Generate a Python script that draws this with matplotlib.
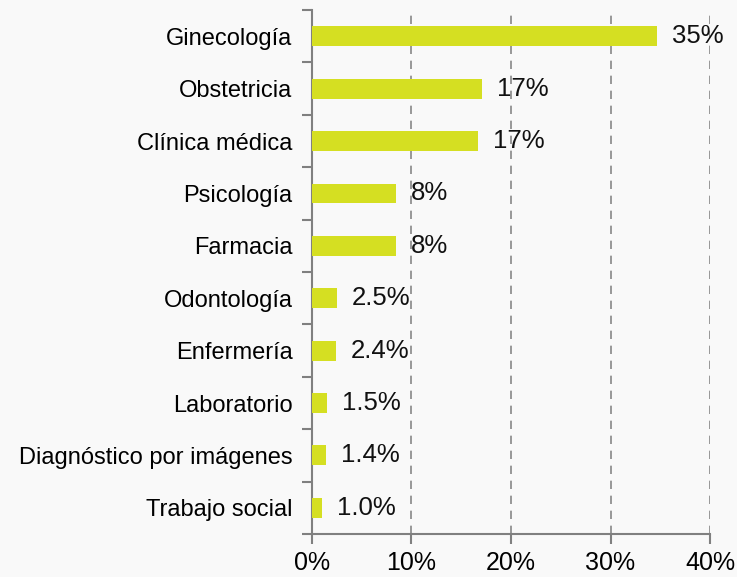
import numpy as np
import matplotlib.pyplot as plt

plt.rcParams['font.family'] = ['Liberation Sans', 'DejaVu Sans']

# Datos
categorias = ["Ginecología", "Obstetricia", "Clínica médica", "Psicología", "Farmacia",
              "Odontología", "Enfermería", "Laboratorio", "Diagnóstico por imágenes",
              "Trabajo social"]
valores = [34.7, 17.1, 16.7, 8.4, 8.4, 2.5, 2.4, 1.5, 1.4, 1.0]
etiquetas = ["35%", "17%", "17%", "8%", "8%", "2.5%", "2.4%", "1.5%", "1.4%", "1.0%"]
xticks = [0, 10, 20, 30, 40]

fig = plt.figure(figsize=(7.37, 5.77), dpi=100)
fig.patch.set_facecolor('#f9f9f9')

ax = fig.add_axes([0.4233, 0.0745, 0.5401, 0.908])
ax.patch.set_alpha(0)

y = np.arange(len(categorias))
ax.barh(y, valores, height=0.38, color='#d5df22', zorder=3)

for yi, v, t in zip(y, valores, etiquetas):
    ax.text(v + 1.5, yi, t, va='center', ha='left', fontsize=18.5, color='#111111', zorder=4)

ax.set_ylim(len(categorias) - 0.5, -0.5)
ax.set_xlim(0, 40)
ax.set_yticks(y)
ax.set_yticklabels(categorias, fontsize=17)
ax.set_xticks(xticks)
ax.set_xticklabels([f"{t}%" for t in xticks], fontsize=18)

# ticks de categoría en los bordes
ax.set_yticks(np.arange(len(categorias) + 1) - 0.5, minor=True)
ax.tick_params(axis='y', which='major', length=0, pad=14)
ax.tick_params(axis='y', which='minor', length=7, width=1.5, color='#808080', direction='out')
ax.tick_params(axis='x', length=7, width=1.5, color='#808080', direction='out', pad=5)

for s in ['top', 'right']:
    ax.spines[s].set_visible(False)
for s in ['left', 'bottom']:
    ax.spines[s].set_color('#808080')
    ax.spines[s].set_linewidth(1.5)

ax.grid(axis='x', linestyle=(0, (5, 4)), color='#888888', linewidth=1.2, zorder=1)
ax.set_axisbelow(True)

fig.savefig('out.png', dpi=100, facecolor=fig.get_facecolor())
